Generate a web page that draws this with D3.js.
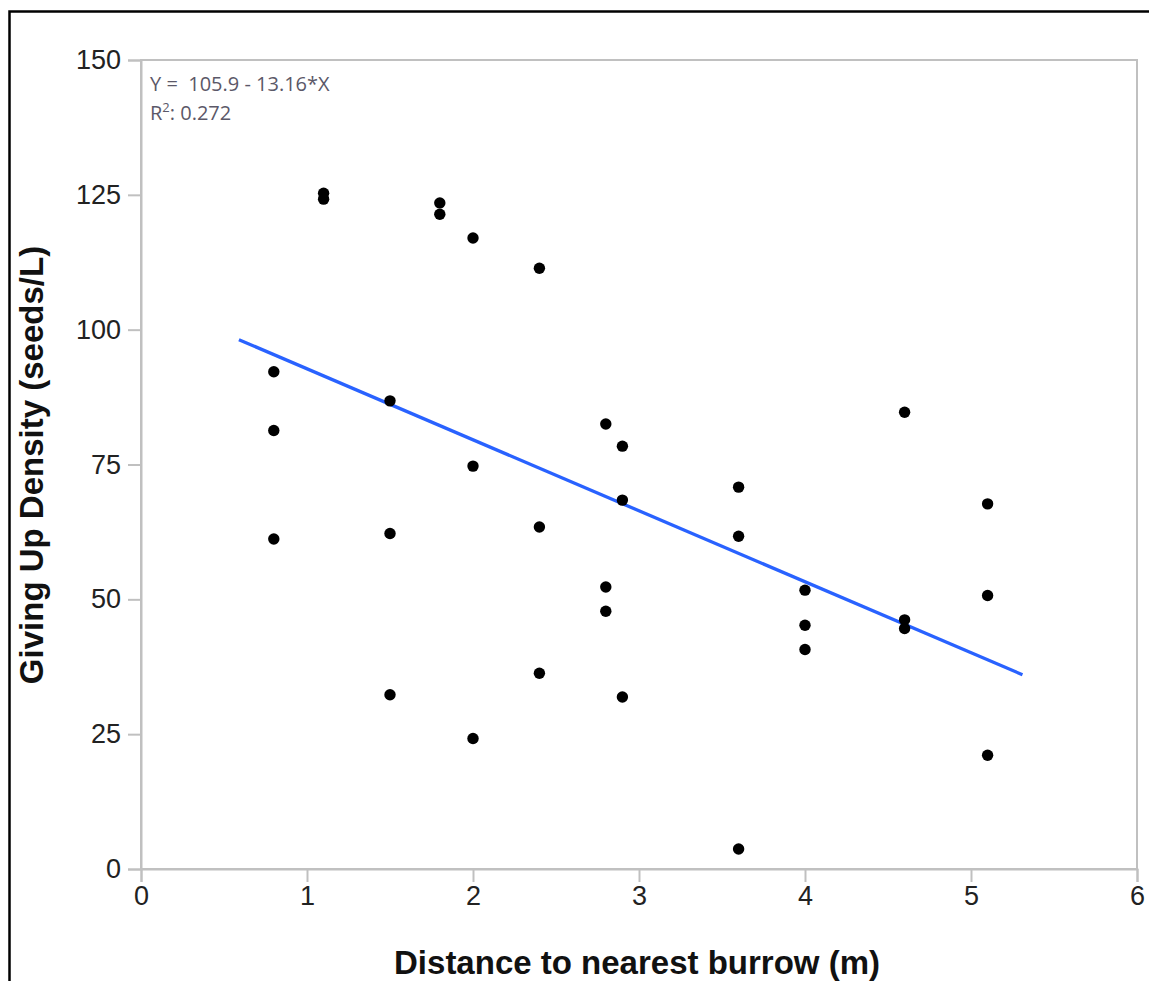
<!DOCTYPE html>
<html>
<head>
<meta charset="utf-8">
<script src="https://cdn.jsdelivr.net/npm/d3@7"></script>
<style>
  body { margin: 0; background: #fff; }
  svg { display: block; }
  .tick text { font-family: "Liberation Sans", Arial, sans-serif; fill: #222; }
</style>
</head>
<body>
<div id="chart"></div>
<script>
// data
var distance = [0.8, 0.8, 0.8, 1.1, 1.1, 1.5, 1.5, 1.5, 1.8, 1.8, 2.0, 2.0, 2.0,
                2.4, 2.4, 2.4, 2.8, 2.8, 2.8, 2.9, 2.9, 2.9, 3.6, 3.6, 3.6,
                4.0, 4.0, 4.0, 4.6, 4.6, 4.6, 5.1, 5.1, 5.1];
var gud = [92.2, 81.3, 61.2, 125.3, 124.2, 86.8, 62.2, 32.3, 123.5, 121.4, 117.0, 74.7, 24.2,
           111.4, 63.4, 36.3, 82.5, 52.3, 47.8, 78.4, 68.4, 31.9, 70.8, 61.7, 3.7,
           51.7, 45.2, 40.7, 84.7, 46.2, 44.6, 67.7, 50.7, 21.1];
var xTicks = [0, 1, 2, 3, 4, 5, 6];
var yTicks = [0, 25, 50, 75, 100, 125, 150];
var fitIntercept = 105.9, fitSlope = -13.16;
var fitRange = [0.59, 5.31];
var eqLabel = "Y =  105.9 - 13.16*X";
var r2Label = "0.272";
var xTitle = "Distance to nearest burrow (m)";
var yTitle = "Giving Up Density (seeds/L)";

var W = 1149, H = 981;
var margin = {top: 60, right: 12, bottom: 112, left: 141},
    width = W - margin.left - margin.right,
    height = H - margin.top - margin.bottom;

var root = d3.select("#chart").append("svg")
    .attr("width", W)
    .attr("height", H);

// outer frame of the picture
root.append("rect")
    .attr("x", 9.5).attr("y", 11.5)
    .attr("width", W + 20).attr("height", H + 20)
    .attr("fill", "none")
    .attr("stroke", "#000")
    .attr("stroke-width", 2.5);

var svg = root.append("g")
    .attr("transform", "translate(" + margin.left + "," + margin.top + ")");

var x = d3.scaleLinear().domain([0, 6]).range([0, width]);
var y = d3.scaleLinear().domain([0, 150]).range([height, 0]);

// plot box
svg.append("rect")
    .attr("width", width).attr("height", height)
    .attr("fill", "none")
    .attr("stroke", "#c0c0c0")
    .attr("stroke-width", 2);

var gx = svg.append("g")
    .attr("transform", "translate(0," + height + ")")
    .call(d3.axisBottom(x).tickValues(xTicks).tickSize(13).tickPadding(4).tickFormat(d3.format("d")));

var gy = svg.append("g")
    .call(d3.axisLeft(y).tickValues(yTicks).tickSize(13).tickPadding(7).tickFormat(d3.format("d")));

[gx, gy].forEach(function(g) {
  g.select(".domain").attr("stroke", "#c0c0c0").attr("stroke-width", 2);
  g.selectAll(".tick line").attr("stroke", "#c0c0c0").attr("stroke-width", 2);
  g.selectAll(".tick text").style("font-size", "27px");
});

// regression line
svg.append("line")
    .attr("x1", x(fitRange[0]))
    .attr("y1", y(fitIntercept + fitSlope * fitRange[0]))
    .attr("x2", x(fitRange[1]))
    .attr("y2", y(fitIntercept + fitSlope * fitRange[1]))
    .attr("stroke", "#2962ff")
    .attr("stroke-width", 3.3);

// points
svg.selectAll(".point")
    .data(d3.range(distance.length))
    .enter().append("circle")
    .attr("class", "point")
    .attr("cx", function(i) { return x(distance[i]); })
    .attr("cy", function(i) { return y(gud[i]); })
    .attr("r", 5.7)
    .attr("fill", "#000");

// equation text
var eq = svg.append("g")
    .attr("font-family", "'Open Sans', 'Noto Sans', sans-serif")
    .attr("font-size", "20px")
    .attr("fill", "#5b5868");

eq.append("text")
    .attr("x", 9).attr("y", 31)
    .style("white-space", "pre")
    .text(eqLabel);

var r2 = eq.append("text").attr("x", 9).attr("y", 60);
r2.append("tspan").text("R");
r2.append("tspan").attr("dy", -8).attr("font-size", "13px").text("2");
r2.append("tspan").attr("dy", 8).text(": " + r2Label);

// axis titles
root.append("text")
    .attr("x", margin.left + width / 2 - 2)
    .attr("y", 974)
    .attr("text-anchor", "middle")
    .attr("font-family", "'Liberation Sans', Arial, sans-serif")
    .attr("font-weight", "bold")
    .attr("font-size", "33px")
    .attr("fill", "#111")
    .text(xTitle);

root.append("text")
    .attr("transform", "translate(43," + 465 + ")rotate(-90)")
    .attr("text-anchor", "middle")
    .attr("font-family", "'Liberation Sans', Arial, sans-serif")
    .attr("font-weight", "bold")
    .attr("font-size", "33px")
    .attr("fill", "#111")
    .text(yTitle);
</script>
</body>
</html>
